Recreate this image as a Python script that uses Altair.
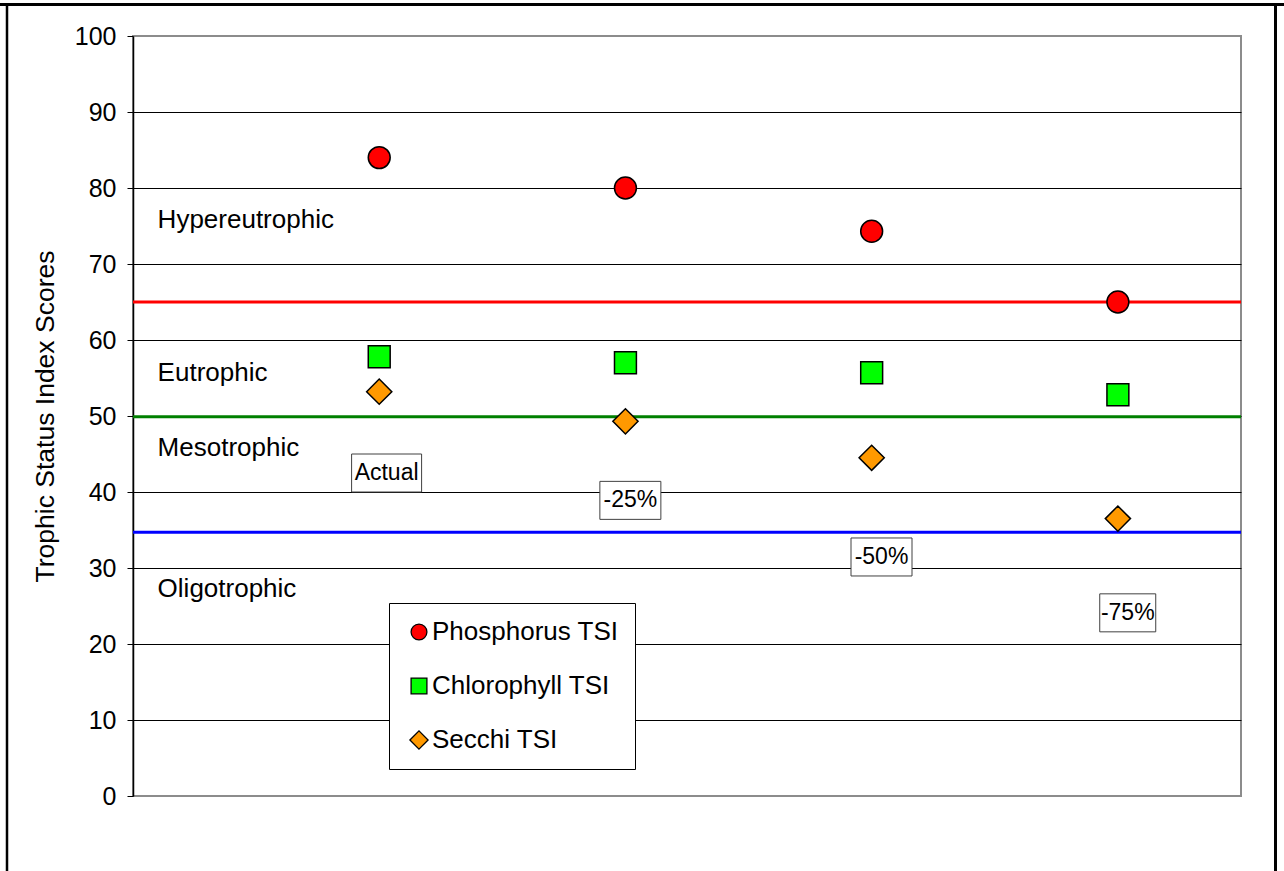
import altair as alt
import pandas as pd

# Load-reduction scenarios and the TSI score of each indicator
scenarios = ["Actual", "-25%", "-50%", "-75%"]
scenario_pos = [1, 2, 3, 4]
phosphorus_tsi = [84.0, 80.0, 74.3, 65.0]
chlorophyll_tsi = [57.8, 57.0, 55.7, 52.8]
secchi_tsi = [53.2, 49.3, 44.5, 36.5]
series_names = ["Phosphorus TSI", "Chlorophyll TSI", "Secchi TSI"]

# Trophic classes and the boundaries between them
class_names = ["Hypereutrophic", "Eutrophic", "Mesotrophic", "Oligotrophic"]
class_label_y = [75.8, 55.7, 45.8, 27.2]
class_bounds = [65.0, 49.9, 34.7]
bound_colors = ["#ff0000", "#008000", "#0000ff"]

# Scenario tags placed below each column of markers
tag_x = [1.03, 2.02, 3.04, 4.04]
tag_y = [42.5, 38.9, 31.45, 24.1]
tag_box_w = [70, 61, 61, 56]

FONT = "Liberation Sans"
PLOT_W, PLOT_H = 1108, 760
# slightly enlarged diamond so it reads like the other markers
BIG_DIAMOND = "M-1.15,0L0,-1.15L1.15,0L0,1.15Z"

points = pd.DataFrame({
    "pos": scenario_pos * 3,
    "tsi": phosphorus_tsi + chlorophyll_tsi + secchi_tsi,
    "series": [s for s in series_names for _ in scenario_pos],
})
classes = pd.DataFrame({"name": class_names, "y": class_label_y, "x": [0.1] * 4})
bounds = pd.DataFrame({"y": class_bounds, "c": bound_colors})
tags = pd.DataFrame({"label": scenarios, "x": tag_x, "y": tag_y, "w": tag_box_w})

xscale = alt.Scale(domain=[0, 4.5], nice=False, zero=False)
yscale = alt.Scale(domain=[0, 100], nice=False)
yaxis = alt.Axis(
    values=list(range(0, 101, 10)),
    labelFont=FONT, labelFontSize=25, labelColor="black", labelPadding=11,
    titleFont=FONT, titleFontSize=26.5, titleColor="black", titleFontWeight="normal",
    titlePadding=15,
    tickSize=6, tickColor="black", domainColor="black", domainWidth=1.5,
    grid=True, gridWidth=1,
    gridColor=alt.condition("datum.value === 0 || datum.value === 100",
                            alt.value("#8c8c8c"), alt.value("black")),
)
TITLE = "Trophic Status Index Scores"

legend = alt.Legend(
    title=None, symbolSize=250, symbolStrokeColor="black", symbolStrokeWidth=1.3,
)


def X(field):
    return alt.X(field, type="quantitative", scale=xscale, axis=None)


def Y(field):
    return alt.Y(field, type="quantitative", scale=yscale, axis=yaxis, title=TITLE)


bound_rules = alt.Chart(bounds).mark_rule(strokeWidth=3).encode(
    y=Y("y"), color=alt.Color("c:N", scale=None)
)

markers = alt.Chart(points).mark_point(
    filled=True, stroke="black", strokeWidth=1.5, opacity=1, size=480
).encode(
    x=X("pos"),
    y=Y("tsi"),
    color=alt.Color("series:N",
                    scale=alt.Scale(domain=series_names,
                                    range=["#ff0000", "#00ff00", "#ff9900"]),
                    legend=legend),
    shape=alt.Shape("series:N",
                    scale=alt.Scale(domain=series_names,
                                    range=["circle", "square", BIG_DIAMOND]),
                    legend=legend),
)

class_text = alt.Chart(classes).mark_text(
    align="left", baseline="middle", font=FONT, fontSize=26, color="black"
).encode(x=X("x"), y=Y("y"), text="name:N")

tag_layers = []
for i in range(len(scenarios)):
    one = tags.iloc[[i]]
    box = alt.Chart(one).mark_rect(
        width=int(tag_box_w[i]), height=38, fill="white", stroke="#404040", strokeWidth=1
    ).encode(x=X("x"), y=Y("y"))
    tag_layers.append(box)
tag_text = alt.Chart(tags).mark_text(
    align="center", baseline="middle", font=FONT, fontSize=23, color="black"
).encode(x=X("x"), y=Y("y"), text="label:N")

# Page frame around the whole figure
frame_df = pd.DataFrame({"k": [0]})
frame_top = alt.Chart(frame_df).mark_rule(color="black", strokeWidth=3).encode(
    x=alt.value(-133), x2=alt.value(1151), y=alt.value(-31.5))
frame_left = alt.Chart(frame_df).mark_rule(color="black", strokeWidth=2.5).encode(
    x=alt.value(-126), y=alt.value(-31.5), y2=alt.value(840))
frame_right = alt.Chart(frame_df).mark_rule(color="black", strokeWidth=3).encode(
    x=alt.value(1142.5), y=alt.value(-31.5), y2=alt.value(840))

chart = alt.layer(
    bound_rules, markers, *tag_layers, tag_text, class_text,
    frame_top, frame_left, frame_right,
).properties(
    width=PLOT_W, height=PLOT_H,
    autosize=alt.AutoSizeParams(type="none"),
    padding={"left": 133, "top": 36, "right": 43, "bottom": 75},
    background="white",
).configure_view(
    stroke="#8c8c8c", strokeWidth=2
).configure_legend(
    orient="none", legendX=256, legendY=567,
    strokeColor="black", fillColor="white", padding=16,
    symbolSize=250, symbolOffset=1, labelOffset=0, labelLimit=400,
    labelFont=FONT, labelFontSize=26, labelColor="black",
    rowPadding=28,
)

chart.save("out.html", embed_options={"renderer": "svg", "actions": False})
